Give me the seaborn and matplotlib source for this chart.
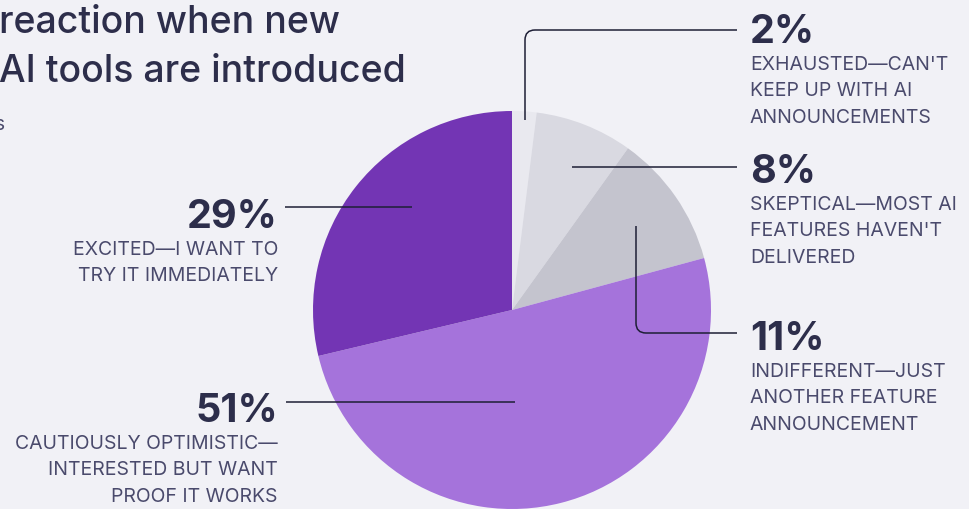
import matplotlib
matplotlib.use("Agg")
import matplotlib.pyplot as plt
from matplotlib.path import Path
from matplotlib.patches import PathPatch
import seaborn as sns

# Survey answers, in clockwise order from 12 o'clock
percents = [2, 8, 11, 51, 29]
pct_labels = ["2%", "8%", "11%", "51%", "29%"]
descriptions = [
    ["EXHAUSTED\u2014CAN'T", "KEEP UP WITH AI", "ANNOUNCEMENTS"],
    ["SKEPTICAL\u2014MOST AI", "FEATURES HAVEN'T", "DELIVERED"],
    ["INDIFFERENT\u2014JUST", "ANOTHER FEATURE", "ANNOUNCEMENT"],
    ["CAUTIOUSLY OPTIMISTIC\u2014", "INTERESTED BUT WANT", "PROOF IT WORKS"],
    ["EXCITED\u2014I WANT TO", "TRY IT IMMEDIATELY"],
]
title_lines = ["reaction when new", "AI tools are introduced"]
subtitle = "Share of respondents"

colors = ["#e9e9ef", "#d9d9e1", "#c4c4ce", "#a573db", "#7335b4"]
BG = "#f1f1f6"
DARK = "#2d2e4b"
MUTED = "#4a4a6c"
LINE = "#1e1f36"

sns.set_theme(style="white")
plt.rcParams["font.family"] = ["Inter", "DejaVu Sans"]

W, H = 970, 510
fig = plt.figure(figsize=(W / 100, H / 100), dpi=100, facecolor=BG)

# Pie axes: centre (512, 311) px, radius 199 px
cx, cy, r = 512, 311, 199
pie_ax = fig.add_axes([(cx - r) / W, (H - cy - r) / H, 2 * r / W, 2 * r / H])
pie_ax.set_facecolor("none")
pie_ax.pie(percents, colors=colors, startangle=90, counterclock=False,
           radius=1, wedgeprops=dict(linewidth=0))
pie_ax.set_xlim(-1, 1)
pie_ax.set_ylim(-1, 1)
pie_ax.set_aspect("auto")
pie_ax.axis("off")

# Overlay axes in pixel coordinates for labels and leader lines
ov = fig.add_axes([0, 0, 1, 1], facecolor="none")
ov.set_xlim(0, W)
ov.set_ylim(H, 0)
ov.axis("off")


def leader(points, corner=None, rad=10):
    """Straight leader line, optionally with one rounded corner."""
    if corner is None:
        verts = points
        codes = [Path.MOVETO] + [Path.LINETO] * (len(points) - 1)
    else:
        (x0, y0), (xc, yc), (x1, y1) = points
        dy = 1 if yc > y0 else -1
        verts = [(x0, y0), (xc, yc - dy * rad), (xc, yc), (xc + rad, yc), (x1, y1)]
        codes = [Path.MOVETO, Path.LINETO, Path.CURVE3, Path.CURVE3, Path.LINETO]
    ov.add_patch(PathPatch(Path(verts, codes), fill=False, edgecolor=LINE, lw=1.1))


# Leader lines
leader([(525, 121), (525, 31), (737, 31)], corner=True)
leader([(572, 168), (737, 168)])
leader([(636, 227), (636, 334), (737, 334)], corner=True)
leader([(285, 208), (412, 208)])
leader([(286, 403), (515, 403)])

# Label blocks: (x, baseline of percentage, alignment)
anchors = [(750, 43, "left"), (750, 183, "left"), (750, 350, "left"),
           (278, 422, "right"), (278, 228, "right")]
for (x, y, ha), pct, desc in zip(anchors, pct_labels, descriptions):
    ov.text(x, y, pct, ha=ha, va="baseline", fontsize=28.5, fontweight="bold",
            color=DARK)
    for i, line in enumerate(desc):
        ov.text(x, y + 27 + 26.5 * i, line, ha=ha, va="baseline", fontsize=14,
                color=MUTED)

# Title
for i, line in enumerate(title_lines):
    ov.text(-1, 33 + 49 * i, line, ha="left", va="baseline", fontsize=27,
            fontweight="medium", color=DARK)
ov.text(5, 130, subtitle, ha="right", va="baseline", fontsize=14, color=MUTED)

fig.savefig("out.png", dpi=100, facecolor=BG)
